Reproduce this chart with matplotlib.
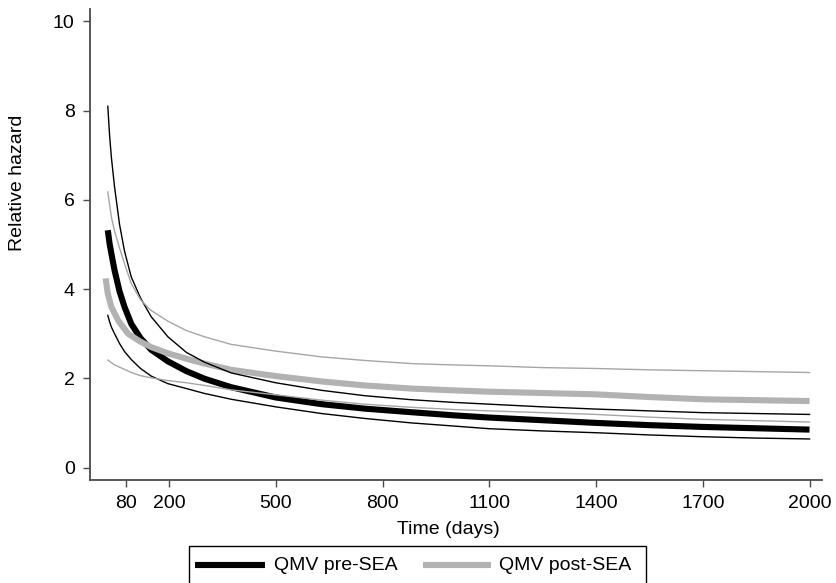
import numpy as np
import matplotlib
matplotlib.use('Agg')
import matplotlib.pyplot as plt
from matplotlib.lines import Line2D
from matplotlib.patches import Rectangle

plt.rcParams['font.family'] = ['Liberation Sans', 'DejaVu Sans']

# ---------------------------------------------------------------------------
# data (days, relative hazard)
# ---------------------------------------------------------------------------
days_pre = [28, 33, 38, 47, 61, 75, 94, 120, 150, 197, 249, 300, 375, 500, 629,
            750, 881, 1000, 1100, 1250, 1400, 1550, 1700, 1850, 2000]
pre_sea = [5.32, 5.02, 4.80, 4.42, 3.95, 3.60, 3.22, 2.90, 2.64, 2.38, 2.16, 1.99,
           1.80, 1.57, 1.42, 1.32, 1.24, 1.17, 1.12, 1.06, 1.00, 0.95, 0.91, 0.88, 0.85]
pre_upper = [8.10, 7.45, 6.96, 6.29, 5.45, 4.85, 4.27, 3.80, 3.38, 2.93, 2.58, 2.36,
             2.12, 1.90, 1.73, 1.61, 1.52, 1.46, 1.42, 1.36, 1.31, 1.27, 1.23, 1.21, 1.19]
pre_lower = [3.41, 3.27, 3.15, 3.00, 2.78, 2.60, 2.42, 2.22, 2.05, 1.88, 1.77, 1.66,
             1.53, 1.36, 1.21, 1.10, 1.00, 0.93, 0.87, 0.82, 0.78, 0.73, 0.69, 0.66, 0.64]

days_post = [22, 28, 38, 57, 85, 120, 150, 197, 249, 300, 375, 500, 629, 750,
             881, 1000, 1100, 1250, 1400, 1550, 1700, 1850, 2000]
post_sea = [4.24, 3.90, 3.60, 3.30, 3.00, 2.82, 2.70, 2.56, 2.44, 2.33, 2.19, 2.05,
            1.93, 1.84, 1.77, 1.73, 1.70, 1.67, 1.64, 1.58, 1.53, 1.51, 1.49]

days_post_ci = [28, 38, 47, 61, 75, 94, 120, 150, 197, 249, 300, 375, 500, 629,
                750, 881, 1000, 1100, 1250, 1400, 1550, 1700, 1850, 2000]
post_upper = [6.18, 5.62, 5.30, 4.92, 4.57, 4.12, 3.76, 3.52, 3.28, 3.07, 2.93, 2.76,
              2.61, 2.48, 2.40, 2.33, 2.30, 2.28, 2.24, 2.22, 2.19, 2.17, 2.15, 2.13]
post_lower = [2.41, 2.35, 2.30, 2.25, 2.20, 2.13, 2.06, 2.01, 1.95, 1.90, 1.84, 1.74,
              1.63, 1.51, 1.42, 1.35, 1.30, 1.27, 1.23, 1.19, 1.13, 1.08, 1.05, 1.02]

x_ticks = [80, 200, 500, 800, 1100, 1400, 1700, 2000]
y_ticks = [0, 2, 4, 6, 8, 10]

# ---------------------------------------------------------------------------
# figure
# ---------------------------------------------------------------------------
W, H = 837, 583
fig = plt.figure(figsize=(W / 100, H / 100), dpi=100)
ax = fig.add_axes([90 / W, 1 - 480 / H, (822 - 90) / W, (480 - 9) / H])

BLACK = '#000000'
GRAY_THICK = '#b2b2b2'
GRAY_THIN = '#a6a6a6'
FS = 14

ax.plot(days_pre, pre_sea, color=BLACK, lw=4.4, solid_capstyle='butt', zorder=2)
ax.plot(days_post, post_sea, color=GRAY_THICK, lw=4.4, solid_capstyle='butt', zorder=3)
ax.plot(days_pre, pre_upper, color=BLACK, lw=1.0, zorder=4)
ax.plot(days_pre, pre_lower, color=BLACK, lw=1.0, zorder=4)
ax.plot(days_post_ci, post_upper, color=GRAY_THIN, lw=1.0, zorder=5)
ax.plot(days_post_ci, post_lower, color=GRAY_THIN, lw=1.0, zorder=5)

ax.set_xlim(-22, 2035)
ax.set_ylim(-0.28, 10.28)
ax.set_xticks(x_ticks)
ax.set_yticks(y_ticks)

for side in ['top', 'right']:
    ax.spines[side].set_visible(False)
for side in ['left', 'bottom']:
    ax.spines[side].set_color('#4a4a4a')
    ax.spines[side].set_linewidth(1.3)
ax.tick_params(direction='out', length=5, width=1.0, color='#4a4a4a',
               labelsize=FS)
ax.tick_params(axis='y', pad=6)
ax.tick_params(axis='x', pad=6)

ax.set_xlabel('Time (days)', fontsize=FS)
ax.set_ylabel('Relative hazard', fontsize=FS)
ax.xaxis.set_label_coords((448 - 90) / (822 - 90), -(529 - 480) / (480 - 9))
ax.yaxis.set_label_coords(-(90 - 18) / (822 - 90), (480 - 183) / (480 - 9))
ax.xaxis.label.set_va('center')
ax.yaxis.label.set_va('center')

# legend box (bottom edge runs off the figure, as in the reference)
fig.add_artist(Rectangle((189 / W, -0.02), (646 - 189) / W, 0.02 + 1 - 546 / H,
                         transform=fig.transFigure, fill=False,
                         edgecolor='black', lw=1.0))
ly = 1 - 565 / H
fig.add_artist(Line2D([195 / W, 265 / W], [ly, ly], transform=fig.transFigure,
                      color=BLACK, lw=4.4, solid_capstyle='butt'))
fig.text(274 / W, ly, 'QMV pre-SEA', fontsize=FS, va='center', ha='left')
fig.add_artist(Line2D([423 / W, 491 / W], [ly, ly], transform=fig.transFigure,
                      color=GRAY_THICK, lw=4.4, solid_capstyle='butt'))
fig.text(499 / W, ly, 'QMV post-SEA', fontsize=FS, va='center', ha='left')

fig.savefig('out.png', dpi=100)
